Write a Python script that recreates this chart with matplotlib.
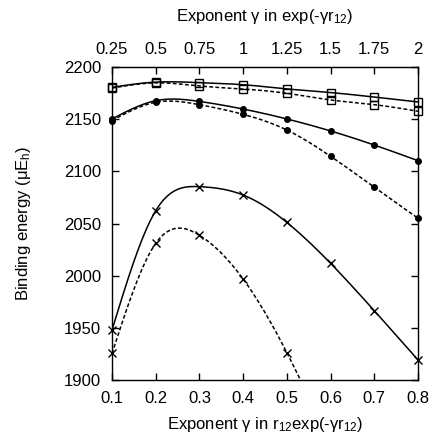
import numpy as np
import matplotlib
matplotlib.use("Agg")
import matplotlib.pyplot as plt

plt.rcParams['font.family'] = ['Liberation Sans', 'DejaVu Sans']
plt.rcParams['mathtext.default'] = 'regular'

gamma = [0.1, 0.2, 0.3, 0.4, 0.5, 0.6, 0.7, 0.8]
sq_solid = [2180.5, 2185.5, 2185.0, 2183.0, 2179.0, 2175.5, 2171.2, 2166.5]
sq_dash = [2179.8, 2184.8, 2181.8, 2178.9, 2174.8, 2168.4, 2163.9, 2157.6]
ci_solid = [2150.2, 2167.7, 2167.0, 2159.7, 2150.2, 2138.7, 2125.2, 2110.2]
ci_dash = [2148.7, 2166.2, 2163.9, 2154.6, 2139.6, 2114.4, 2084.8, 2055.0]
x_solid = [1947.9, 2062.3, 2085.3, 2077.3, 2051.0, 2011.8, 1966.4, 1919.2]
x_dash_g = [0.1, 0.2, 0.3, 0.4, 0.5, 0.6]
x_dash = [1925.5, 2031.0, 2038.7, 1996.8, 1926.2, 1838.0]

top_ticks = [0.25, 0.5, 0.75, 1, 1.25, 1.5, 1.75, 2]
y_ticks = [1900, 1950, 2000, 2050, 2100, 2150, 2200]
YMIN, YMAX = 1900, 2200


def natural_spline(x, y, n=400):
    x = np.asarray(x, float)
    y = np.asarray(y, float)
    m = len(x)
    h = np.diff(x)
    A = np.zeros((m, m))
    b = np.zeros(m)
    A[0, 0] = 1
    A[-1, -1] = 1
    for i in range(1, m - 1):
        A[i, i - 1] = h[i - 1]
        A[i, i] = 2 * (h[i - 1] + h[i])
        A[i, i + 1] = h[i]
        b[i] = 6 * ((y[i + 1] - y[i]) / h[i] - (y[i] - y[i - 1]) / h[i - 1])
    M = np.linalg.solve(A, b)
    xs = np.linspace(x[0], x[-1], n)
    idx = np.clip(np.searchsorted(x, xs) - 1, 0, m - 2)
    x0, x1 = x[idx], x[idx + 1]
    hh = x1 - x0
    t0 = x1 - xs
    t1 = xs - x0
    ys = (M[idx] * t0**3 / (6 * hh) + M[idx + 1] * t1**3 / (6 * hh)
          + (y[idx] / hh - M[idx] * hh / 6) * t0
          + (y[idx + 1] / hh - M[idx + 1] * hh / 6) * t1)
    return xs, ys


FS = 12
fig = plt.figure(figsize=(4.35, 4.37), dpi=100)
ax = fig.add_axes([0.2575, 0.1304, 0.7035, 0.7163])

dash = (0, (2.5, 1.5))
series = [
    (gamma, sq_solid, '-', 's', 'none', 5.5),
    (gamma, sq_dash, dash, 's', 'none', 5.5),
    (gamma, ci_solid, '-', 'o', 'black', 4.0),
    (gamma, ci_dash, dash, 'o', 'black', 4.0),
    (gamma, x_solid, '-', 'x', 'black', 5.5),
    (x_dash_g, x_dash, dash, 'x', 'black', 5.5),
]
for gx, gy, ls, mk, mfc, ms in series:
    xs, ys = natural_spline(gx, gy)
    ax.plot(xs, ys, color='black', linestyle=ls, linewidth=1.1, clip_on=True)
    gyv = np.asarray(gy, float)
    gyv = np.where((gyv >= YMIN) & (gyv <= YMAX), gyv, np.nan)
    ax.plot(gx, gyv, linestyle='none', marker=mk, markersize=ms,
            markerfacecolor=mfc, markeredgecolor='black', markeredgewidth=1.0,
            clip_on=False)

ax.set_xlim(0.1, 0.8)
ax.set_ylim(YMIN, YMAX)
ax.set_xticks(gamma)
ax.set_xticklabels([f"{g:g}" for g in gamma])
ax.set_yticks(y_ticks)
ax.tick_params(direction='in', length=5, width=1.0, labelsize=FS,
               right=True, top=False, pad=8)
for s in ax.spines.values():
    s.set_linewidth(1.0)

sec = ax.secondary_xaxis('top', functions=(lambda v: v * 2.5, lambda v: v / 2.5))
sec.set_xticks(top_ticks)
sec.set_xticklabels([f"{t:g}" for t in top_ticks])
sec.tick_params(direction='in', length=5, width=1.0, labelsize=FS, pad=7)

fig.text(0.5 * (0.2575 + 0.961), 1 - 21 / 437, 'Exponent γ in exp(-γr$_{12}$)',
         fontsize=FS, ha='center', va='baseline')
fig.text(0.5 * (0.2575 + 0.961), 1 - 429 / 437, 'Exponent γ in r$_{12}$exp(-γr$_{12}$)',
         fontsize=FS, ha='center', va='baseline')
fig.text(24 / 435, 1 - 223.5 / 437, 'Binding energy (μE$_h$)',
         fontsize=FS, ha='center', va='center', rotation=90)

fig.savefig('out.png', dpi=100)
